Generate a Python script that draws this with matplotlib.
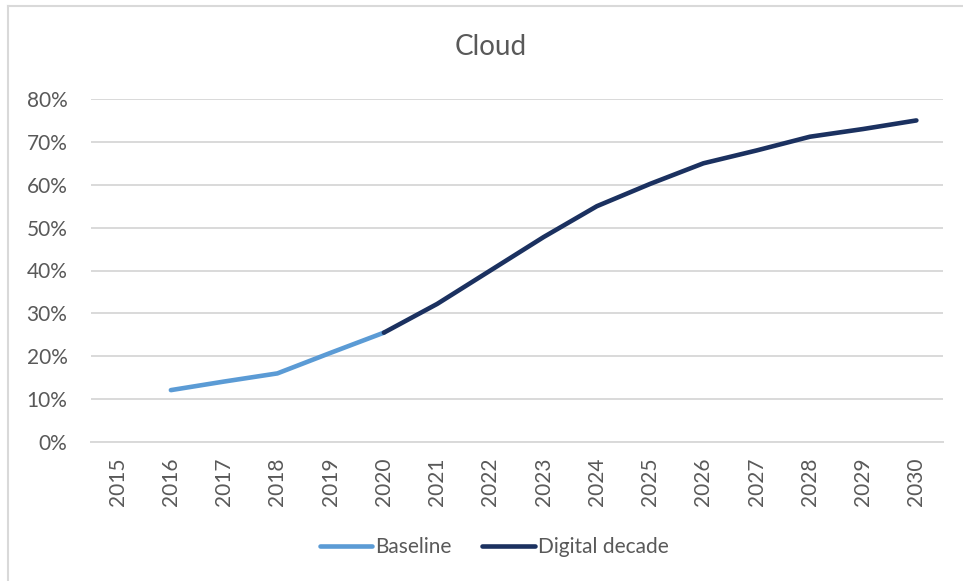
import matplotlib
matplotlib.use("Agg")
import matplotlib.pyplot as plt
from matplotlib.lines import Line2D
from matplotlib.ticker import PercentFormatter

plt.rcParams['font.family'] = ['Lato', 'DejaVu Sans']

years = [str(y) for y in range(2015, 2031)]
baseline_years = ['2016', '2017', '2018', '2019', '2020']
baseline_vals = [12.1, 14.1, 16.0, 20.8, 25.5]
decade_years = ['2020', '2021', '2022', '2023', '2024', '2025', '2026',
                '2027', '2028', '2029', '2030']
decade_vals = [25.5, 32.2, 40.0, 47.8, 55.0, 60.2, 65.0, 68.0, 71.2, 73.0, 75.0]

text_col = '#595959'
grid_col = '#d9d9d9'

fig = plt.figure(figsize=(9.63, 5.81), dpi=100)
ax = fig.add_axes([91 / 963, 1 - 442 / 581, (943 - 91) / 963, (442 - 99) / 581])

pos = {y: i for i, y in enumerate(years)}
ax.plot([pos[y] for y in baseline_years], baseline_vals, color='#5B9BD5',
        lw=3.3, solid_capstyle='round', solid_joinstyle='round', label='Baseline')
ax.plot([pos[y] for y in decade_years], decade_vals, color='#1B3160',
        lw=3.3, solid_capstyle='round', solid_joinstyle='round', label='Digital decade')

ax.set_xlim(-0.5, len(years) - 0.5)
ax.set_ylim(0, 80)
ax.set_yticks(range(0, 81, 10))
ax.yaxis.set_major_formatter(PercentFormatter(decimals=0))
ax.set_xticks(range(len(years)))
ax.set_xticklabels(years, rotation=90)
ax.grid(axis='y', color=grid_col, lw=1.4)
ax.set_axisbelow(True)
for s in ['top', 'right', 'left']:
    ax.spines[s].set_visible(False)
ax.spines['bottom'].set_color(grid_col)
ax.spines['bottom'].set_linewidth(1.4)
ax.tick_params(axis='both', length=0, labelsize=15, labelcolor=text_col)
ax.tick_params(axis='y', pad=17)
ax.tick_params(axis='x', pad=11)

fig.text(491 / 963, 1 - 47 / 581, 'Cloud', ha='center', va='center',
         fontsize=20, color=text_col)

leg = fig.legend(loc='center', bbox_to_anchor=(494 / 963, 1 - 547 / 581),
                 ncol=2, frameon=False, fontsize=15, handlelength=2.5,
                 handletextpad=0.15, columnspacing=1.5)
for t in leg.get_texts():
    t.set_color(text_col)
for h in leg.get_lines():
    h.set_solid_capstyle('round')

# chart border (left and top edges visible)
fig.add_artist(Line2D([8 / 963, 8 / 963], [0, 1 - 6 / 581], color=grid_col,
                      lw=1.5, transform=fig.transFigure))
fig.add_artist(Line2D([8 / 963, 1], [1 - 6 / 581, 1 - 6 / 581], color=grid_col,
                      lw=1.5, transform=fig.transFigure))

fig.savefig('out.png', dpi=100)
